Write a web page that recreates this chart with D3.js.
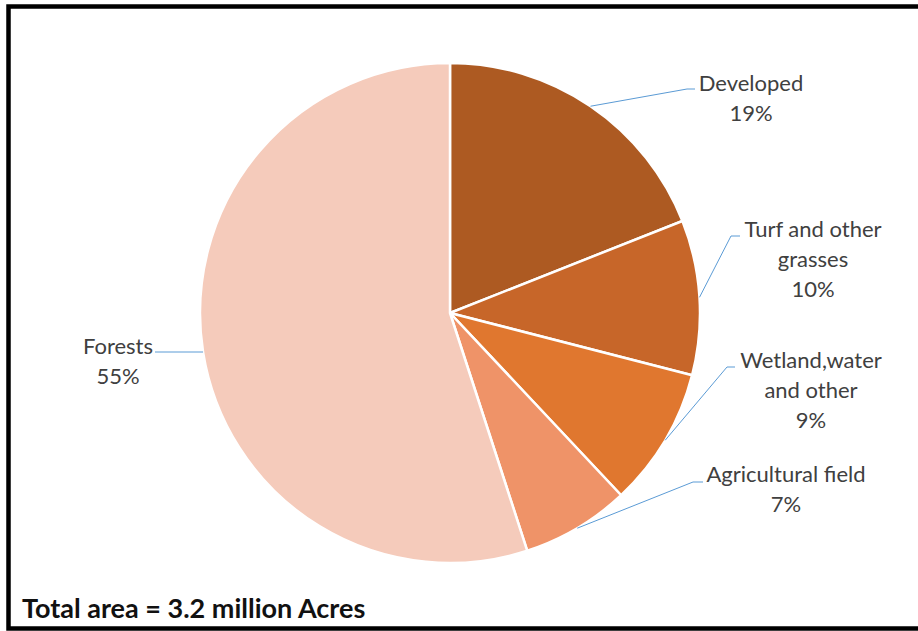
<!DOCTYPE html>
<html>
<head>
<meta charset="utf-8">
<script src="https://cdn.jsdelivr.net/npm/d3@7"></script>
<style>
  html, body { margin: 0; padding: 0; background: #fff; }
  svg { display: block; }
  text { font-family: Lato, "Open Sans", sans-serif; }
</style>
</head>
<body>
<svg id="chart" width="918" height="631"></svg>
<script>
// Land-cover shares, clockwise from 12 o'clock
const categories = ["Developed", "Turf and other grasses", "Wetland,water and other", "Agricultural field", "Forests"];
const labelLines = [["Developed"], ["Turf and other", "grasses"], ["Wetland,water", "and other"], ["Agricultural field"], ["Forests"]];
const shares = [19, 10, 9, 7, 55];
const sliceColors = ["#AD5A22", "#C76629", "#E0772F", "#EF9368", "#F5CBBB"];
const totalNote = "Total area = 3.2 million Acres";

// Label placement: text centre x, first line y, elbow of the leader line, end of its horizontal run
const labelLayout = [
  { tx: 751, ty: 82,  ex: 687, ey: 89,  hx: 695, radial: true },
  { tx: 813, ty: 228, ex: 731, ey: 236, hx: 740, radial: true },
  { tx: 811, ty: 359, ex: 727, ey: 367, hx: 735, radial: true },
  { tx: 786, ty: 473, ex: 693, ey: 482, hx: 703, radial: true },
  { tx: 118, ty: 345, ex: 155, ey: 352, hx: 155, radial: false }
];

const svg = d3.select("#chart");
const cx = 450, cy = 313, radius = 250;
const lineHeight = 30;

const pie = d3.pie().sort(null).value(d => d);
const arcs = pie(shares);
const arc = d3.arc().innerRadius(0).outerRadius(radius);
const color = d3.scaleOrdinal().domain(categories).range(sliceColors);

const g = svg.append("g").attr("transform", `translate(${cx},${cy})`);

g.selectAll("path.slice")
  .data(arcs)
  .join("path")
  .attr("class", "slice")
  .attr("d", arc)
  .attr("fill", (d, i) => color(categories[i]))
  .attr("stroke", "#ffffff")
  .attr("stroke-width", 2.5)
  .attr("stroke-linejoin", "round");

// Leader lines
const leaders = svg.append("g").attr("fill", "none").attr("stroke", "#5B9BD5").attr("stroke-width", 1);
arcs.forEach((a, i) => {
  const L = labelLayout[i];
  let sx, sy;
  if (L.radial) {
    const mid = (a.startAngle + a.endAngle) / 2;
    sx = cx + radius * Math.sin(mid);
    sy = cy - radius * Math.cos(mid);
    leaders.append("path").attr("d", d3.line()([[sx, sy], [L.ex, L.ey], [L.hx, L.ey]]));
  } else {
    const dy = L.ey - cy;
    sx = cx - Math.sqrt(radius * radius - dy * dy);
    sy = L.ey;
    leaders.append("path").attr("d", d3.line()([[L.ex, L.ey], [sx, sy]]));
  }
});

// Category and percentage labels
const labels = svg.append("g").attr("fill", "#404040").attr("font-size", 22).attr("text-anchor", "middle");
arcs.forEach((a, i) => {
  const L = labelLayout[i];
  const lines = labelLines[i].concat([d3.format("d")(a.data) + "%"]);
  const t = labels.append("text").attr("x", L.tx).attr("y", L.ty).attr("dominant-baseline", "central");
  lines.forEach((ln, k) => {
    t.append("tspan").attr("x", L.tx).attr("y", L.ty + k * lineHeight).text(ln);
  });
});

// Footnote with total
svg.append("text")
  .attr("x", 22).attr("y", 618)
  .attr("font-size", 27).attr("font-weight", "bold").attr("fill", "#111")
  .text(totalNote);

// Frame
svg.append("rect")
  .attr("x", 8.5).attr("y", 6.5).attr("width", 930).attr("height", 622)
  .attr("fill", "none").attr("stroke", "#000").attr("stroke-width", 4.5);
</script>
</body>
</html>
